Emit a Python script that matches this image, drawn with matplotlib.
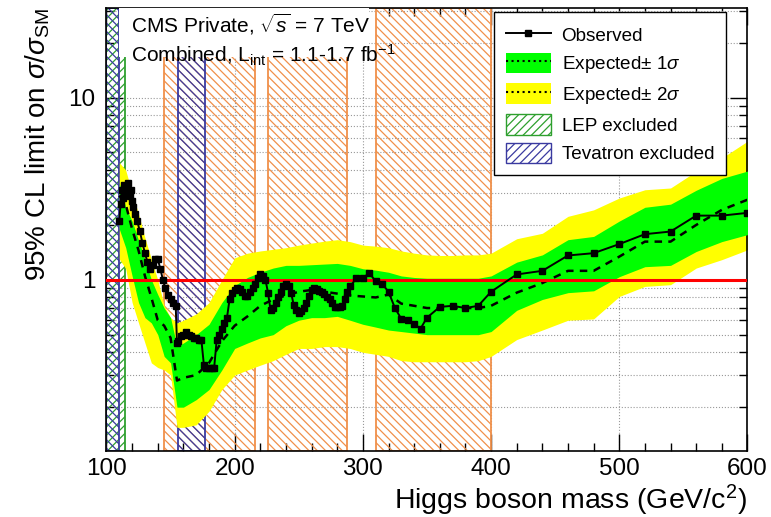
import numpy as np
import matplotlib.pyplot as plt
from matplotlib.lines import Line2D
from matplotlib.patches import Patch

plt.rcParams['font.family'] = ['Liberation Sans', 'DejaVu Sans']
plt.rcParams['mathtext.fontset'] = 'custom'
plt.rcParams['mathtext.rm'] = 'Liberation Sans'
plt.rcParams['mathtext.it'] = 'Liberation Sans:italic'
plt.rcParams['hatch.linewidth'] = 0.9

# observed limit
obs_mass = [110, 111, 112, 113, 114, 115, 116, 117, 118, 119, 120, 121, 122, 124, 126, 128,
            130, 132, 134, 136, 138, 140, 142, 144, 146, 148, 150, 152, 154, 155, 156, 158,
            160, 162, 164, 166, 168, 170, 172, 174, 176, 178, 180, 182, 184, 186, 188, 190,
            192, 194, 196, 198, 200, 202, 204, 206, 208, 210, 212, 214, 216, 218, 220, 222,
            224, 226, 228, 230, 232, 234, 236, 238, 240, 242, 244, 246, 248, 250, 252, 254,
            256, 258, 260, 262, 264, 266, 268, 270, 272, 274, 276, 278, 280, 282, 284, 286,
            288, 290, 295, 300, 305, 310, 315, 320, 325, 330, 335, 340, 345, 350, 360, 370,
            380, 390, 400, 420, 440, 460, 480, 500, 520, 540, 560, 580, 600]
obs_limit = [2.1, 2.6, 3.1, 2.8, 3.3, 3.0, 3.2, 3.4, 2.9, 3.1, 2.7, 2.5, 2.3, 2.1, 1.85, 1.6,
             1.4, 1.25, 1.15, 1.2, 1.3, 1.3, 1.15, 1.0, 0.9, 0.83, 0.78, 0.75, 0.72, 0.45, 0.46, 0.49,
             0.5, 0.52, 0.5, 0.49, 0.48, 0.48, 0.47, 0.47, 0.34, 0.33, 0.33, 0.33, 0.33, 0.47, 0.5, 0.54,
             0.58, 0.62, 0.78, 0.85, 0.88, 0.9, 0.89, 0.86, 0.82, 0.82, 0.86, 0.9, 0.95, 1.02, 1.07, 1.05,
             1.0, 0.85, 0.68, 0.7, 0.75, 0.8, 0.86, 0.92, 0.95, 0.93, 0.85, 0.73, 0.68, 0.66, 0.67, 0.7,
             0.75, 0.82, 0.88, 0.9, 0.89, 0.87, 0.86, 0.84, 0.8, 0.78, 0.75, 0.71, 0.71, 0.71, 0.72, 0.78,
             0.86, 0.92, 1.02, 1.02, 1.09, 0.98, 0.95, 0.86, 0.7, 0.61, 0.6, 0.57, 0.54, 0.62, 0.71, 0.72,
             0.7, 0.72, 0.86, 1.07, 1.12, 1.36, 1.4, 1.57, 1.78, 1.84, 2.25, 2.25, 2.33]

# expected limit and bands
exp_mass = [110, 115, 120, 125, 130, 135, 140, 145, 150, 155, 160, 170, 180, 190, 200, 210,
            220, 230, 240, 250, 260, 270, 280, 290, 300, 310, 320, 330, 340, 350, 360, 370,
            380, 390, 400, 420, 440, 460, 480, 500, 520, 540, 560, 580, 600]
exp_median = [2.9, 2.6, 1.9, 1.45, 1.05, 0.8, 0.6, 0.56, 0.48, 0.28, 0.29, 0.3, 0.35, 0.46, 0.56, 0.63,
              0.72, 0.78, 0.82, 0.86, 0.88, 0.86, 0.84, 0.82, 0.81, 0.8, 0.83, 0.74, 0.72, 0.7, 0.7, 0.7,
              0.7, 0.7, 0.72, 0.85, 0.96, 1.12, 1.12, 1.34, 1.62, 1.62, 2.0, 2.42, 2.75]
exp_p1 = [3.4, 2.5, 2.1, 1.65, 1.3, 1.0, 0.83, 0.7, 0.62, 0.43, 0.45, 0.5, 0.57, 0.75, 0.93, 1.03,
          1.1, 1.16, 1.2, 1.2, 1.21, 1.22, 1.23, 1.2, 1.15, 1.13, 1.1, 1.05, 1.03, 1.02, 1.02, 1.02,
          1.02, 1.02, 1.05, 1.25, 1.37, 1.66, 1.73, 2.1, 2.5, 2.6, 3.1, 3.6, 3.95]
exp_m1 = [1.9, 1.5, 1.05, 0.75, 0.62, 0.58, 0.5, 0.38, 0.35, 0.2, 0.2, 0.22, 0.25, 0.32, 0.42, 0.45,
          0.48, 0.5, 0.56, 0.6, 0.62, 0.62, 0.63, 0.6, 0.57, 0.55, 0.53, 0.52, 0.51, 0.5, 0.5, 0.5,
          0.5, 0.5, 0.52, 0.68, 0.78, 0.85, 0.87, 1.04, 1.18, 1.2, 1.43, 1.62, 1.77]
exp_p2 = [4.4, 4.0, 3.0, 2.3, 1.7, 1.3, 1.0, 0.72, 0.62, 0.58, 0.6, 0.65, 0.75, 1.0, 1.32, 1.4,
          1.44, 1.47, 1.5, 1.55, 1.59, 1.63, 1.66, 1.62, 1.55, 1.53, 1.5, 1.44, 1.4, 1.37, 1.36, 1.36,
          1.37, 1.37, 1.4, 1.68, 1.8, 2.23, 2.42, 2.81, 3.12, 3.19, 3.94, 4.66, 5.76]
exp_m2 = [1.3, 1.15, 0.75, 0.58, 0.45, 0.35, 0.33, 0.32, 0.3, 0.155, 0.155, 0.16, 0.19, 0.25, 0.3, 0.32,
          0.34, 0.36, 0.39, 0.42, 0.42, 0.43, 0.43, 0.42, 0.4, 0.39, 0.38, 0.36, 0.355, 0.355, 0.355, 0.355,
          0.355, 0.36, 0.38, 0.47, 0.53, 0.6, 0.61, 0.81, 0.92, 0.94, 1.16, 1.29, 1.46]

# excluded mass ranges (GeV)
lep_range = (100, 114.4)
tev_ranges = [(100, 109.5), (156, 177)]
cms_ranges = [(145, 216), (226, 288), (310, 400)]

orange = '#f0904a'
blue = '#3a3aa0'
lgreen = '#2ea02e'

fig = plt.figure(figsize=(7.71, 5.17), dpi=100)
ax = fig.add_axes([0.1381, 0.1277, 0.8314, 0.8568])
ax.set_yscale('log')
ax.set_xlim(100, 600)
ax.set_ylim(0.115, 31)

ax.grid(True, which='both', axis='y', linestyle=':', color='#999999', linewidth=0.8, zorder=0)
ax.grid(True, which='major', axis='x', linestyle=':', color='#999999', linewidth=0.8, zorder=0)
ax.set_axisbelow(True)

for lo, hi in cms_ranges:
    ax.axvspan(lo, hi, facecolor='none', edgecolor=orange, hatch='\\\\\\\\', linewidth=1.3, zorder=1)
ax.axvspan(*lep_range, facecolor='none', edgecolor=lgreen, hatch='////', linewidth=1.3, zorder=1)
for lo, hi in tev_ranges:
    ax.axvspan(lo, hi, facecolor='none', edgecolor=blue, hatch='\\\\\\\\', linewidth=1.3, zorder=1)

ax.fill_between(exp_mass, exp_m2, exp_p2, color='#ffff00', linewidth=0, zorder=2)
ax.fill_between(exp_mass, exp_m1, exp_p1, color='#00ff00', linewidth=0, zorder=3)
ax.plot(exp_mass, exp_median, color='black', linestyle=(0, (3, 2.5)), linewidth=1.8, zorder=4)
ax.axhline(1, color='#ff0000', linewidth=2.2, zorder=5)
ax.plot(obs_mass, obs_limit, color='black', linewidth=1.4, marker='s', markersize=4.5, zorder=6)

# white box behind header text
ax.axvspan(109.6, 305, ymin=0.889, ymax=1.0, facecolor='white', edgecolor='none', zorder=6.5)
ax.text(0.038, 0.9436, r'CMS Private, $\sqrt{s}$ = 7 TeV', transform=ax.transAxes,
        fontsize=15, va='baseline', zorder=7)
ax.text(0.038, 0.876, r'Combined, L$_{\mathrm{int}}$ = 1.1-1.7 fb$^{-1}$', transform=ax.transAxes,
        fontsize=15, va='baseline', zorder=7)

ax.set_yticks([1, 10])
ax.set_yticklabels(['1', '10'])
ax.set_xticks([100, 200, 300, 400, 500, 600])
ax.set_xticks(np.arange(100, 601, 20), minor=True)
ax.tick_params(which='both', direction='in', top=True, right=True, labelsize=17.5)
ax.tick_params(which='major', length=12, width=1)
ax.tick_params(which='minor', length=6, width=1)
ax.tick_params(axis='x', pad=5)
ax.tick_params(axis='y', pad=8)
for s in ax.spines.values():
    s.set_linewidth(1.2)

fig.text(747 / 771, (517 - 509) / 517, r'Higgs boson mass (GeV/c$^{2}$)', fontsize=20.5,
         ha='right', va='baseline')
ax.set_ylabel(r'95% CL limit on $\sigma/\sigma_{\mathrm{SM}}$', fontsize=20, loc='top', labelpad=12)

handles = [
    Line2D([], [], color='black', linewidth=1.4, marker='s', markersize=4.5),
    (Patch(facecolor='#00ff00'), Line2D([], [], color='black', linestyle=':', linewidth=1.5)),
    (Patch(facecolor='#ffff00'), Line2D([], [], color='black', linestyle=':', linewidth=1.5)),
    Patch(facecolor='none', edgecolor=lgreen, hatch='////'),
    Patch(facecolor='none', edgecolor=blue, hatch='////'),
]
labels = ['Observed', r'Expected$\pm$ 1$\sigma$', r'Expected$\pm$ 2$\sigma$', 'LEP excluded', 'Tevatron excluded']
leg = ax.legend(handles, labels, loc='upper right', bbox_to_anchor=(0.967, 0.991), fontsize=13.6,
                frameon=True, fancybox=False, edgecolor='black', framealpha=1, borderaxespad=0,
                handlelength=2.4, handleheight=1.3, labelspacing=0.42, borderpad=0.65, handletextpad=0.55)
leg.get_frame().set_linewidth(1.0)
leg.set_zorder(10)

fig.savefig('out.png', dpi=100)
